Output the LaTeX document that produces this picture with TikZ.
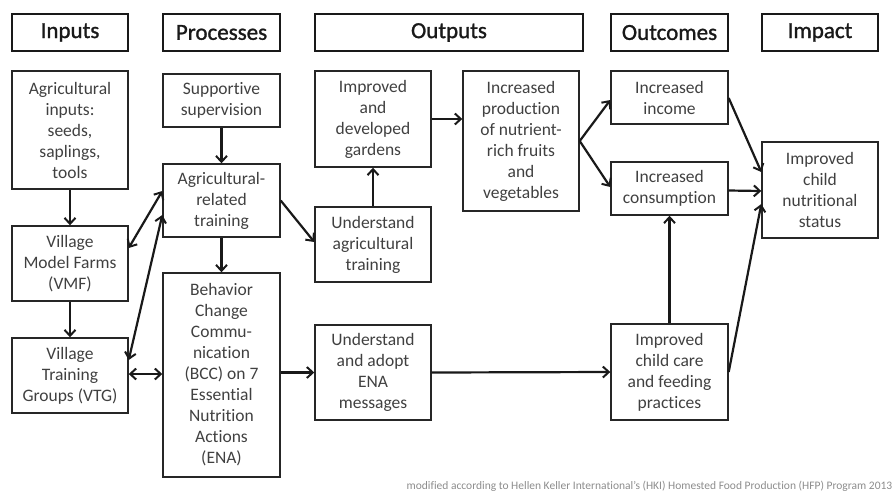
\documentclass[tikz,border=0pt]{standalone}
\usepackage{fontspec}
\setmainfont{Carlito}[Ligatures={NoCommon}]
\newfontfamily\hdrfont[FakeBold=1.2]{Carlito}
\usetikzlibrary{arrows.meta}

\tikzset{
  hdr/.style={draw=black!90, line width=2.2pt, inner sep=0pt, align=center,
    font=\hdrfont\fontsize{23}{26}\selectfont, text=black!90},
  bx/.style={draw=black!85, line width=1.4pt, inner sep=0pt, align=center,
    font=\fontsize{17.5}{21}\selectfont, text=black!75},
  tip/.tip={Straight Barb[length=6pt,width=11pt,line width=2pt]},
  link/.style={line width=2.2pt, black!90, -tip},
  dlink/.style={line width=2.2pt, black!90, tip-tip},
}

\begin{document}
\begin{tikzpicture}[x=1pt, y=-1pt]
\useasboundingbox (0,0) rectangle (893,491);

% column headers
\node[hdr, minimum width=116pt, minimum height=37pt] (hIn)  at (70,32.5)    {Inputs};
\node[hdr, minimum width=117pt, minimum height=37pt] (hPr)  at (221.5,32.5) {Processes};
\node[hdr, minimum width=268pt, minimum height=37pt] (hOut) at (449,32.5)   {Outputs};
\node[hdr, minimum width=117pt, minimum height=37pt] (hOc)  at (669.5,32.5) {Outcomes};
\node[hdr, minimum width=116pt, minimum height=37pt] (hIm)  at (820,32.5)   {Impact};

% inputs
\node[bx, minimum width=116pt, minimum height=118pt] (agin) at (70,130)
  {Agricultural\\inputs:\\seeds,\\saplings,\\tools};
\node[bx, minimum width=116pt, minimum height=75pt] (vmf) at (70,263.5)
  {Village\\Model Farms\\(VMF)};
\node[bx, minimum width=116pt, minimum height=75pt] (vtg) at (70,375.5)
  {Village\\Training\\Groups (VTG)};

% processes
\node[bx, minimum width=117pt, minimum height=53pt] (sup) at (221.5,100.5)
  {Supportive\\supervision};
\node[bx, minimum width=117pt, minimum height=73pt] (agtr) at (221.5,200.5)
  {Agricultural-\\related\\training};
\node[bx, minimum width=117pt, minimum height=204pt] (bcc) at (221.5,375)
  {Behavior\\Change\\Commu-\\nication\\(BCC) on 7\\Essential\\Nutrition\\Actions\\(ENA)};

% outputs
\node[bx, minimum width=116pt, minimum height=96pt] (gard) at (373,119)
  {Improved\\and\\developed\\gardens};
\node[bx, minimum width=116pt, minimum height=75pt] (uat) at (373,244.5)
  {Understand\\agricultural\\training};
\node[bx, minimum width=116pt, minimum height=95pt] (uena) at (373,372.5)
  {Understand\\and adopt\\ENA\\messages};
\node[bx, minimum width=116pt, minimum height=140pt] (prod) at (521,141)
  {Increased\\production\\of nutrient-\\rich fruits\\and\\vegetables};

% outcomes
\node[bx, minimum width=117pt, minimum height=53pt] (inc) at (669.5,97.5)
  {Increased\\income};
\node[bx, minimum width=117pt, minimum height=53pt] (cons) at (669.5,188.5)
  {Increased\\consumption};
\node[bx, minimum width=117pt, minimum height=96pt] (care) at (669.5,372)
  {Improved\\child care\\and feeding\\practices};

% impact
\node[bx, minimum width=116pt, minimum height=96pt] (imp) at (820,190)
  {Improved\\child\\nutritional\\status};

% source note
\node[anchor=base east, inner sep=0pt, text=black!45,
  font=\fontsize{11.5}{13}\selectfont] (src) at (892.5,489)
  {modified according to Hellen Keller International's (HKI) Homested Food Production (HFP) Program 2013};

% connectors
\draw[link] (agin.south) -- (vmf.north);
\draw[link] (vmf.south) -- (vtg.north);
\draw[link] (sup.south) -- (agtr.north);
\draw[link] (agtr.south) -- (bcc.north);
\draw[dlink] ([yshift=15.5pt]vmf.east) -- ([yshift=9.5pt]agtr.west);
\draw[dlink] ([yshift=15.5pt]vtg.east) -- ([yshift=-14.5pt]agtr.west);
\draw[dlink] ([yshift=1.5pt]vtg.east) -- ([yshift=1pt]bcc.west);
\draw[link] (agtr.east) -- ([yshift=2.5pt]uat.west);
\draw[link] (uat.north) -- (gard.south);
\draw[link] (gard.east) -- (prod.west |- gard.east);
\draw[link] (prod.east) -- ([yshift=-2.5pt]inc.west);
\draw[link] (prod.east) -- ([yshift=1.5pt]cons.west);
\draw[link] ([yshift=-0.5pt]inc.east) -- ([yshift=18pt]imp.west);
\draw[link] ([yshift=-2pt]cons.east) -- ([yshift=-1pt]imp.west);
\draw[link] (care.north) -- (cons.south);
\draw[link] (care.east) -- ([yshift=-14pt]imp.west);
\draw[link] (bcc.east |- uena.west) -- (uena.west);
\draw[link] (uena.east) -- (care.west);
\end{tikzpicture}
\end{document}
